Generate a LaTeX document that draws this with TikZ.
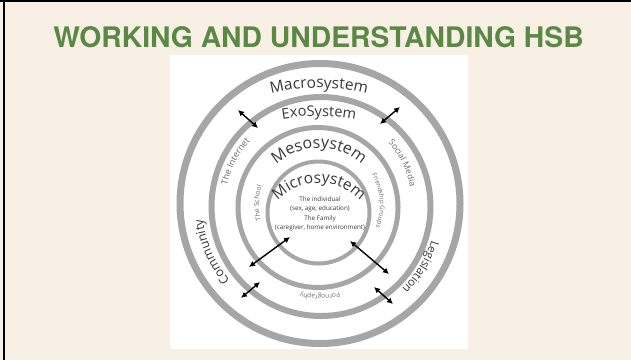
\documentclass[tikz,border=0pt]{standalone}
\usepackage{fontspec}
\usetikzlibrary{arrows.meta,decorations.text}
\newfontfamily\osans{Open Sans}
\newfontfamily\heros{TeX Gyre Heros}
\definecolor{paper}{HTML}{F8F0E4}
\definecolor{hsbgreen}{HTML}{5A8946}
\definecolor{ringgray}{HTML}{A6A6A6}
\definecolor{namegray}{HTML}{383838}
\definecolor{labelgray}{HTML}{6A6A6A}
\tikzset{
  ring/.style={draw=ringgray},
  twoway/.style={{Latex[length=6pt,width=6pt]}-{Latex[length=6pt,width=6pt]},line width=1.4pt},
  arctext/.style={decorate,decoration={text along path,text align=center,text color=#1}},
}
\begin{document}
\begin{tikzpicture}[x=1pt,y=-1pt]
\fill[paper] (0,0) rectangle (631,360);
\useasboundingbox (0,0) rectangle (631,360);
\fill[white] (170,55) rectangle (468,349);
\draw[line width=2pt] (0,1) -- (631,1);
\draw[line width=2pt] (4,0) -- (4,360);
\node[anchor=base,text=hsbgreen,font=\heros\bfseries\fontsize{28.3}{30}\selectfont] (title) at (318.5,47) {WORKING AND UNDERSTANDING HSB};
\coordinate (C) at (319,205);
\draw[ring,line width=7pt] (320,203.5) circle[radius=140];
\draw[ring,line width=6pt] (321,206.5) circle[radius=109.5];
\draw[ring,line width=5pt] (318,207.5) circle[radius=80];
\draw[ring,line width=4pt] (318.5,212.5) circle[radius=51];
\path[arctext=namegray,decoration={text={|\osans\fontsize{15.5}{16}\selectfont|Macrosystem}}] (319,288) ++(245:200) arc[start angle=245,end angle=295,radius=200];
\path[arctext=namegray,decoration={text={|\osans\fontsize{14.5}{15}\selectfont|ExoSystem}}] (319,336) ++(250:220) arc[start angle=250,end angle=290,radius=220];
\path[arctext=namegray,decoration={text={|\osans\fontsize{16}{16}\selectfont|Mesosystem}}] (319,212) ++(200:64) arc[start angle=200,end angle=340,radius=64];
\path[arctext=namegray,decoration={text={|\osans\fontsize{15.5}{16}\selectfont|Microsystem}}] (319,240) ++(190:57) arc[start angle=190,end angle=350,radius=57];
\path[arctext=labelgray,decoration={text={|\osans\fontsize{8.8}{9}\selectfont|The Internet}}] (C) ++(167.6:94) arc[start angle=167.6,end angle=247.6,radius=94];
\path[arctext=labelgray,decoration={text={|\osans\fontsize{8.5}{9}\selectfont|Social Media}}] (C) ++(293.4:93) arc[start angle=293.4,end angle=373.4,radius=93];
\path[arctext=namegray,decoration={text={|\osans\fontsize{12.5}{13}\selectfont|Community}}] (C) ++(116.3:117) arc[start angle=116.3,end angle=196.3,radius=117];
\path[arctext=namegray,decoration={text={|\osans\fontsize{11.5}{12}\selectfont|Legislation}}] (C) ++(-8.7:118) arc[start angle=-8.7,end angle=71.3,radius=118];
\path[arctext=labelgray,decoration={text={|\osans\fontsize{6.5}{7}\selectfont|Pornography}}] (C) ++(49.4:90) arc[start angle=49.4,end angle=129.4,radius=90];
\path[arctext=labelgray,decoration={text={|\osans\fontsize{6.9}{7}\selectfont|The School}}] (C) ++(141.8:60) arc[start angle=141.8,end angle=221.8,radius=60];
\path[arctext=labelgray,decoration={text={|\osans\fontsize{6.3}{7}\selectfont|Friendship Groups}}] (C) ++(305.5:61) arc[start angle=305.5,end angle=405.5,radius=61];
\node[align=center,text=namegray,font=\osans\fontsize{6.3}{9.3}\selectfont] (core) at (320,214) {The individual\\(sex, age, education)\\The Family\\(caregiver, home environment)};
\coordinate (a1) at (238,110);
\coordinate (b1) at (258,128);
\coordinate (a2) at (400,107);
\coordinate (b2) at (380,124);
\coordinate (a3) at (290,237);
\coordinate (b3) at (249,267);
\coordinate (a4) at (350,241);
\coordinate (b4) at (389,274);
\coordinate (a5) at (260,282);
\coordinate (b5) at (241,298);
\coordinate (a6) at (374,287);
\coordinate (b6) at (393,304);
\draw[twoway] (a1) -- (b1);
\draw[twoway] (a2) -- (b2);
\draw[twoway] (a3) -- (b3);
\draw[twoway] (a4) -- (b4);
\draw[twoway] (a5) -- (b5);
\draw[twoway] (a6) -- (b6);
\end{tikzpicture}
\end{document}
